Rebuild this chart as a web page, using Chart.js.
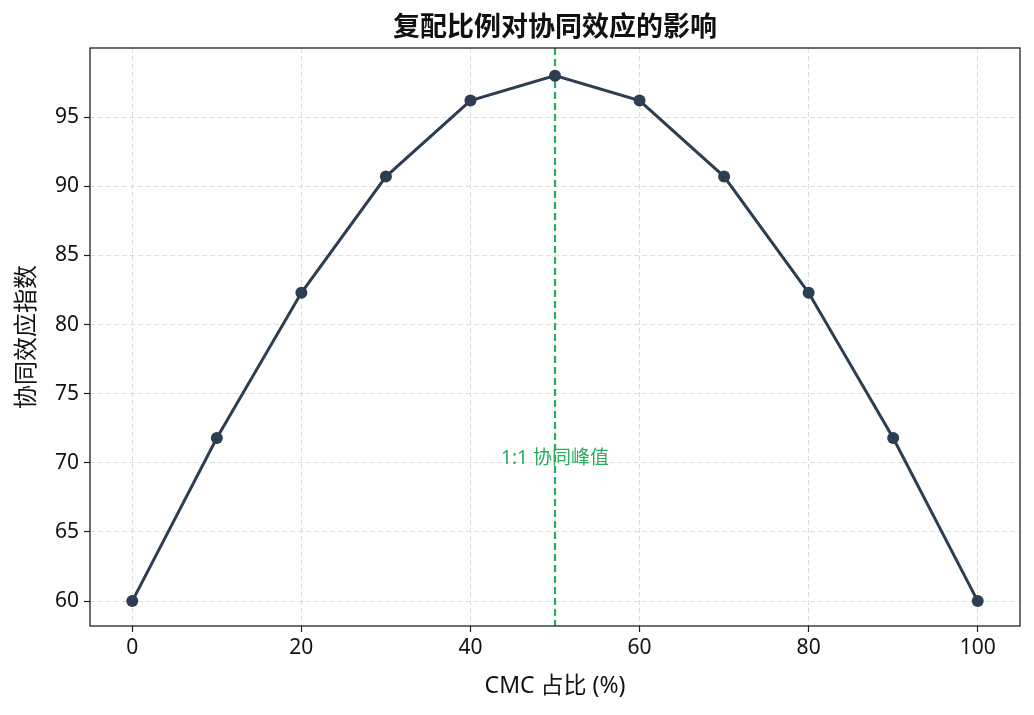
<!DOCTYPE html>
<html>
<head>
<meta charset="utf-8">
<script src="https://cdn.jsdelivr.net/npm/chart.js@4.4.0/dist/chart.umd.min.js"></script>
<style>
    html, body { margin: 0; padding: 0; background: #ffffff; }
    .wrap { width: 1034px; height: 715px; position: relative; }
</style>
</head>
<body>
<div class="wrap">
    <canvas id="synergyChart" width="1034" height="715"></canvas>
</div>

<script>
    // CMC share (%) and synergy index
    const cmcShare = [0, 10, 20, 30, 40, 50, 60, 70, 80, 90, 100];
    const synergyIndex = [60, 71.8, 82.3, 90.7, 96.2, 98, 96.2, 90.7, 82.3, 71.8, 60];
    const xTicks = [0, 20, 40, 60, 80, 100];
    const yTicks = [60, 65, 70, 75, 80, 85, 90, 95];
    const peakShare = 50;
    const peakLabel = '1:1 协同峰值';
    const peakLabelY = 70;
    const chartTitle = '复配比例对协同效应的影响';

    const FONT = "'Noto Sans', 'Noto Sans CJK SC', sans-serif";

    // dashed peak marker, annotation, axes frame and title centred over the plot
    const peakPlugin = {
        id: 'peakPlugin',
        beforeDatasetsDraw(chart) {
            const { ctx, chartArea, scales } = chart;
            const px = scales.x.getPixelForValue(peakShare);
            ctx.save();
            ctx.strokeStyle = '#27ae60';
            ctx.lineWidth = 2.2;
            ctx.setLineDash([7, 4]);
            ctx.beginPath();
            ctx.moveTo(px, chartArea.top);
            ctx.lineTo(px, chartArea.bottom);
            ctx.stroke();
            ctx.setLineDash([]);
            ctx.fillStyle = '#27ae60';
            ctx.font = '19px ' + FONT;
            ctx.textAlign = 'center';
            ctx.textBaseline = 'bottom';
            ctx.fillText(peakLabel, px, scales.y.getPixelForValue(peakLabelY) + 5);
            ctx.restore();
        },
        afterDraw(chart) {
            const { ctx, chartArea } = chart;
            ctx.save();
            ctx.strokeStyle = '#222222';
            ctx.lineWidth = 1.3;
            ctx.strokeRect(chartArea.left, chartArea.top,
                chartArea.right - chartArea.left, chartArea.bottom - chartArea.top);
            ctx.fillStyle = '#111111';
            ctx.font = 'bold 27px ' + FONT;
            ctx.textAlign = 'center';
            ctx.textBaseline = 'middle';
            ctx.fillText(chartTitle, (chartArea.left + chartArea.right) / 2, 28);
            ctx.restore();
        }
    };

    new Chart(document.getElementById('synergyChart'), {
        type: 'line',
        data: {
            datasets: [{
                label: '协同效应指数',
                data: cmcShare.map((x, i) => ({ x: x, y: synergyIndex[i] })),
                borderColor: '#2c3e50',
                backgroundColor: '#2c3e50',
                borderWidth: 3,
                pointRadius: 6,
                pointBorderWidth: 0,
                pointHoverRadius: 6,
                tension: 0,
                fill: false
            }]
        },
        options: {
            responsive: false,
            animation: false,
            layout: { padding: { left: 0, right: 14, top: 48, bottom: 0 } },
            plugins: {
                legend: { display: false },
                tooltip: { enabled: false },
                title: { display: false }
            },
            scales: {
                x: {
                    type: 'linear',
                    min: -5,
                    max: 105,
                    afterBuildTicks(scale) { scale.ticks = xTicks.map(v => ({ value: v })); },
                    afterFit(scale) { scale.height = 89; },
                    grid: {
                        color: '#dddddd',
                        drawTicks: true,
                        tickLength: 6,
                        tickColor: '#222222',
                        tickWidth: 1.2
                    },
                    border: { display: false, dash: [5, 3] },
                    ticks: {
                        color: '#111111',
                        font: { family: FONT, size: 21 },
                        padding: 3,
                        maxRotation: 0
                    },
                    title: {
                        display: true,
                        text: 'CMC 占比 (%)',
                        color: '#111111',
                        font: { family: FONT, size: 23 },
                        padding: { top: 0, bottom: 15 }
                    }
                },
                y: {
                    min: 58.2,
                    max: 100,
                    afterBuildTicks(scale) { scale.ticks = yTicks.map(v => ({ value: v })); },
                    afterFit(scale) { scale.width = 90; },
                    grid: {
                        color: '#dddddd',
                        drawTicks: true,
                        tickLength: 6,
                        tickColor: '#222222',
                        tickWidth: 1.2
                    },
                    border: { display: false, dash: [5, 3] },
                    ticks: {
                        color: '#111111',
                        font: { family: FONT, size: 21 },
                        padding: 5
                    },
                    title: {
                        display: true,
                        text: '协同效应指数',
                        color: '#111111',
                        font: { family: FONT, size: 24 },
                        padding: { top: 13, bottom: 0 }
                    }
                }
            }
        },
        plugins: [peakPlugin]
    });
</script>
</body>
</html>
